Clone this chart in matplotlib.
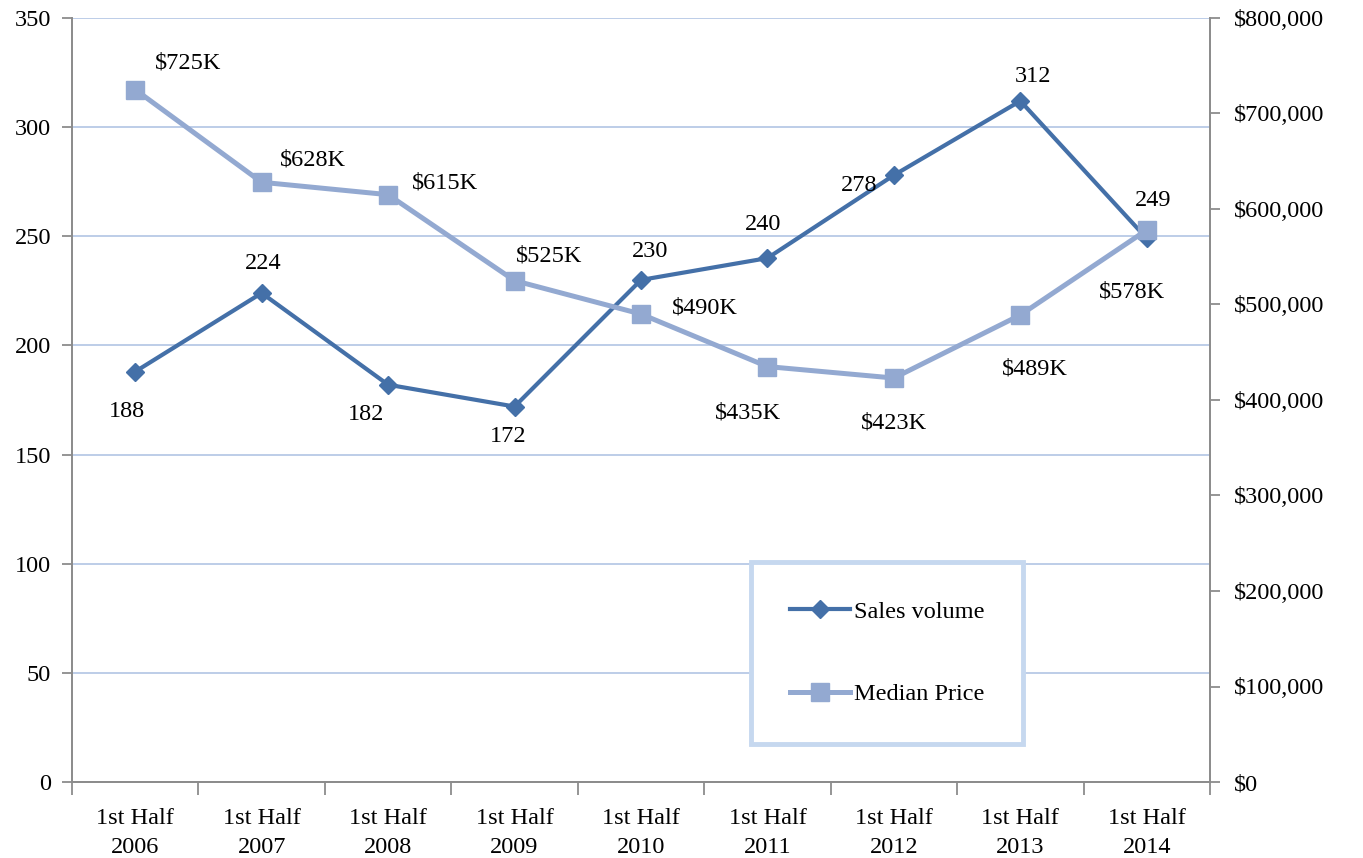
import numpy as np
import matplotlib.pyplot as plt
from matplotlib.ticker import FuncFormatter

plt.rcParams['font.family'] = ['Liberation Serif', 'DejaVu Serif']

categories = ['1st Half\n2006', '1st Half\n2007', '1st Half\n2008', '1st Half\n2009',
              '1st Half\n2010', '1st Half\n2011', '1st Half\n2012', '1st Half\n2013',
              '1st Half\n2014']
sales = [188, 224, 182, 172, 230, 240, 278, 312, 249]
price = [725000, 628000, 615000, 525000, 490000, 435000, 423000, 489000, 578000]

# label offsets in pixels (dx, dy), dy positive = up
sales_off = [(-8, -40), (2, 30), (-22, -30), (-6, -30), (9, 28), (-4, 34), (-35, -10), (13, 24), (6, 38)]
price_off = [(53, 27), (51, 22), (57, 12), (35, 25), (64, 6), (-19, -46), (0, -45), (15, -54), (-15, -62)]

c_sales = '#4470a8'
c_price = '#93a9d1'
grey = '#8c8c8c'
fs = 17.5

fig, ax = plt.subplots(figsize=(13.63, 8.58), dpi=100)
fig.subplots_adjust(left=72 / 1363, right=1210 / 1363, top=1 - 18 / 858, bottom=1 - 782 / 858)
ax2 = ax.twinx()

x = np.arange(len(categories))
l1, = ax.plot(x, sales, color=c_sales, lw=3, marker='D', ms=9.5, label='Sales volume', zorder=3)
l2, = ax2.plot(x, price, color=c_price, lw=3.6, marker='s', ms=12.5, label='Median Price', zorder=3)

for xi, v, (dx, dy) in zip(x, sales, sales_off):
    ax.annotate(str(v), (xi, v), xytext=(dx, dy), textcoords='offset pixels',
                ha='center', va='center', fontsize=fs)
for xi, v, (dx, dy) in zip(x, price, price_off):
    ax2.annotate('$%dK' % (v // 1000), (xi, v), xytext=(dx, dy), textcoords='offset pixels',
                 ha='center', va='center', fontsize=fs)

ax.set_xlim(-0.5, len(categories) - 0.5)
ax.set_ylim(0, 350)
ax2.set_ylim(0, 800000)
ax.set_yticks(np.arange(0, 351, 50))
ax2.set_yticks(np.arange(0, 800001, 100000))
ax2.yaxis.set_major_formatter(FuncFormatter(lambda v, p: '${:,.0f}'.format(v)))

ax.set_xticks(np.arange(-0.5, len(categories), 1))
ax.set_xticklabels([])
ax.set_xticks(x, minor=True)
ax.set_xticklabels(categories, minor=True, fontsize=fs, linespacing=1.45)
ax.tick_params(axis='x', which='minor', length=0, pad=19)
ax.tick_params(axis='x', which='major', length=9, color=grey, width=1.3)
ax.tick_params(axis='y', length=7, color=grey, width=1.3, labelsize=fs, pad=8)
ax2.tick_params(axis='y', length=7, color=grey, width=1.3, labelsize=fs, pad=10)

ax.grid(axis='y', color='#b7c9e6', lw=1.3)
ax.set_axisbelow(True)
for a in (ax, ax2):
    a.spines['top'].set_visible(False)
    for s in ('left', 'right', 'bottom'):
        a.spines[s].set_color(grey)
        a.spines[s].set_linewidth(1.3)

leg = ax2.legend(handles=[l1, l2], loc='center', fontsize=fs, frameon=True, fancybox=False,
                 borderpad=1.6, labelspacing=2.5, handlelength=2.5, handletextpad=0.15)
leg.set_bbox_to_anchor((887 / 1363, 1 - 653 / 858), transform=fig.transFigure)
leg.get_frame().set_edgecolor('#c6d8ef')
leg.get_frame().set_linewidth(3.5)
leg.get_frame().set_facecolor('white')
leg.get_frame().set_alpha(1)

fig.savefig('out.png', dpi=100)
